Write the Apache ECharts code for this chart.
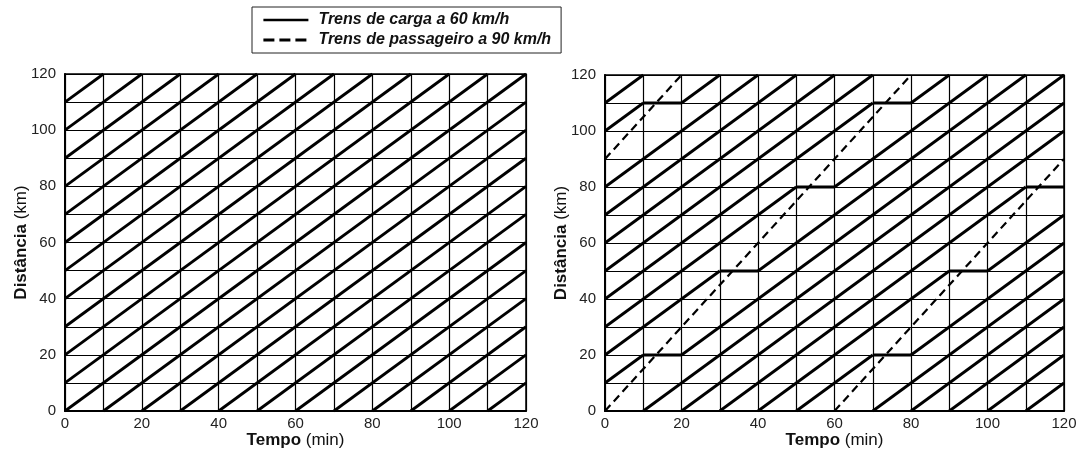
<!DOCTYPE html>
<html>
<head>
<meta charset="utf-8">
<script src="https://cdn.jsdelivr.net/npm/echarts@6/dist/echarts.min.js"></script>
<style>
html,body{margin:0;padding:0;background:#fff;}
#chart{width:1077px;height:449px;}
</style>
</head>
<body>
<div id="chart"></div>
<script>
// ---- data ----
const axisMin = 0;
const axisMax = 120;
const gridStep = 10;
const tickLabels = [0, 20, 40, 60, 80, 100, 120];
// freight trains (60 km/h = 1 km/min): distance = time + offset
const freightOffsets = [-110, -100, -90, -80, -70, -60, -50, -40, -30, -20, -10, 0, 10, 20, 30, 40, 50, 60, 70, 80, 90, 100, 110];
// right panel: freight trains waiting on sidings [start min, end min, km]
const sidingWaits = [[10, 20, 20], [30, 40, 50], [50, 60, 80], [70, 80, 110], [10, 20, 110], [70, 80, 20], [90, 100, 50], [110, 120, 80]];
// right panel: parts of freight paths not used [offset, from min, to min]
const freightGaps = [[0, 0, 20], [10, 10, 40], [20, 30, 60], [30, 50, 80], [40, 70, 80], [90, 0, 20], [100, 10, 20], [-60, 60, 80], [-50, 70, 100], [-40, 90, 120], [-30, 110, 120]];
// right panel: passenger trains (90 km/h) [start [min, km], end [min, km]]
const passengerTrips = [[[0, 0], [80, 120]], [[0, 90], [20, 120]], [[60, 0], [120, 90]]];
const freightName = 'Trens de carga a 60 km/h';
const passengerName = 'Trens de passageiro a 90 km/h';

// ---- build ----
const FONT = "'Liberation Sans', Arial, sans-serif";
const freightStyle = {color: '#000', width: 2.8};
const passengerStyle = {color: '#000', width: 2.2, type: [8, 5]};

function freightSegments(c, gaps) {
  let t0 = Math.max(axisMin, axisMin - c), t1 = Math.min(axisMax, axisMax - c);
  if (t1 <= t0) return [];
  let segs = [[t0, t1]];
  gaps.filter(g => g[0] === c).forEach(g => {
    const out = [];
    segs.forEach(s => {
      if (g[2] <= s[0] || g[1] >= s[1]) { out.push(s); return; }
      if (g[1] > s[0]) out.push([s[0], g[1]]);
      if (g[2] < s[1]) out.push([g[2], s[1]]);
    });
    segs = out;
  });
  return segs.filter(s => s[1] - s[0] > 1e-6).map(s => [[s[0], s[0] + c], [s[1], s[1] + c]]);
}

const series = [];
function addLine(idx, pts, name, style) {
  series.push({
    type: 'line', name: name, xAxisIndex: idx, yAxisIndex: idx,
    data: pts, showSymbol: false, symbol: 'none', silent: true,
    lineStyle: style, itemStyle: {color: '#000'}, z: 3, clip: true
  });
}
// left panel: all freight paths
freightOffsets.forEach(c => freightSegments(c, []).forEach(s => addLine(0, s, freightName, freightStyle)));
// right panel
freightOffsets.forEach(c => freightSegments(c, freightGaps).forEach(s => addLine(1, s, freightName, freightStyle)));
sidingWaits.forEach(w => addLine(1, [[w[0], w[2]], [w[1], w[2]]], freightName, freightStyle));
passengerTrips.forEach(p => addLine(1, p, passengerName, passengerStyle));

const nameStyle = {fontFamily: FONT, fontSize: 17, color: '#111',
  rich: {b: {fontFamily: FONT, fontSize: 17, fontWeight: 'bold', color: '#111'}}};
function xAxis(idx) {
  return {
    type: 'value', gridIndex: idx, min: axisMin, max: axisMax, interval: gridStep,
    name: '{b|Tempo} (min)', nameLocation: 'middle', nameGap: 21, nameMoveOverlap: false,
    nameTextStyle: nameStyle,
    axisLine: {show: true, lineStyle: {color: '#000', width: 2}},
    axisTick: {show: false},
    axisLabel: {fontFamily: FONT, fontSize: 15, color: '#222', margin: 5,
      formatter: v => tickLabels.includes(v) ? String(v) : ''},
    splitLine: {show: true, lineStyle: {color: '#000', width: 1.2}}
  };
}
function yAxis(idx) {
  return {
    type: 'value', gridIndex: idx, min: axisMin, max: axisMax, interval: gridStep,
    name: '{b|Distância} (km)', nameLocation: 'middle', nameGap: 35, nameRotate: 90, nameMoveOverlap: false,
    nameTextStyle: nameStyle,
    axisLine: {show: true, lineStyle: {color: '#000', width: 2}},
    axisTick: {show: false},
    axisLabel: {fontFamily: FONT, fontSize: 15, color: '#222', margin: 9,
      formatter: v => tickLabels.includes(v) ? String(v) : ''},
    splitLine: {show: true, lineStyle: {color: '#000', width: 1.2}}
  };
}

const chart = echarts.init(document.getElementById('chart'), null, {renderer: 'canvas'});
chart.setOption({
  animation: false,
  backgroundColor: '#fff',
  legend: {
    orient: 'vertical', left: 252, top: 7,
    padding: [5, 10, 5, 10], itemGap: 4, itemWidth: 45, itemHeight: 16,
    borderColor: '#222', borderWidth: 1, borderRadius: 0,
    selectedMode: false,
    textStyle: {fontFamily: FONT, fontSize: 16, fontStyle: 'italic', fontWeight: 'bold', color: '#111', padding: [0, 0, 0, 5]},
    itemStyle: {opacity: 0},
    data: [
      {name: freightName, itemStyle: {opacity: 0}, lineStyle: {color: '#000', width: 2.6, type: 'solid'}},
      {name: passengerName, itemStyle: {opacity: 0}, lineStyle: {color: '#000', width: 2.8, type: [11, 5]}}
    ]
  },
  grid: [
    {left: 65, top: 74, width: 461, height: 337, containLabel: false, outerBoundsMode: 'none', show: true, borderColor: '#000', borderWidth: 1.5, backgroundColor: 'transparent'},
    {left: 605, top: 75, width: 459, height: 336, containLabel: false, outerBoundsMode: 'none', show: true, borderColor: '#000', borderWidth: 1.5, backgroundColor: 'transparent'}
  ],
  xAxis: [xAxis(0), xAxis(1)],
  yAxis: [yAxis(0), yAxis(1)],
  series: series
});
</script>
</body>
</html>
